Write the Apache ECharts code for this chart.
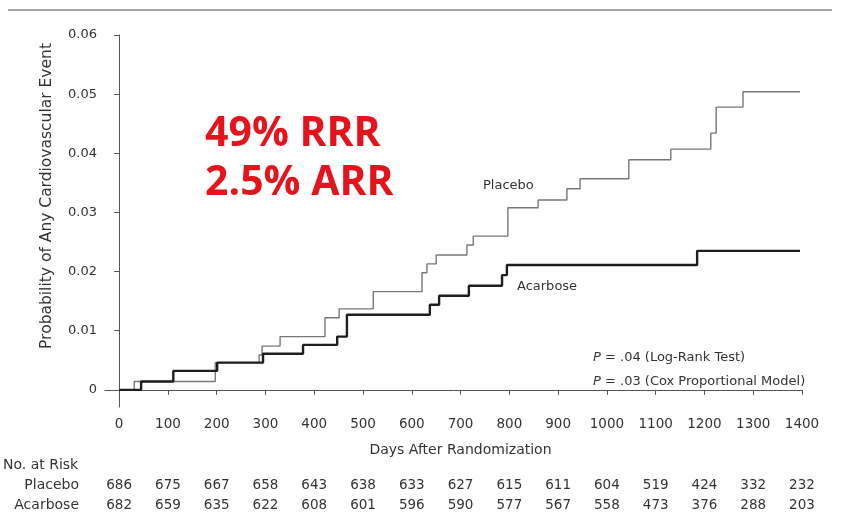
<!DOCTYPE html>
<html>
<head>
<meta charset="utf-8">
<script src="https://cdn.jsdelivr.net/npm/echarts@6/dist/echarts.min.js"></script>
<style>
html,body{margin:0;padding:0;background:#fff;}
#main{width:844px;height:526px;}
</style>
</head>
<body>
<div id="main"></div>
<script>
// ---- data ----
const placeboDays = [0, 31, 197, 287, 293, 330, 422, 451, 521, 621, 631, 650, 713, 726, 797, 859, 918, 945, 1045, 1131, 1213, 1224, 1279, 1396];
const placeboProb = [0, 0.0014, 0.0046, 0.0059, 0.0074, 0.0090, 0.0122, 0.0137, 0.0166, 0.0198, 0.0213, 0.0228, 0.0245, 0.0260, 0.0308, 0.0321, 0.0340, 0.0357, 0.0389, 0.0407, 0.0434, 0.0478, 0.0504, 0.0504];
const acarboseDays = [0, 45, 111, 201, 295, 377, 447, 467, 637, 656, 717, 785, 795, 1185, 1396];
const acarboseProb = [0, 0.0014, 0.0032, 0.0046, 0.0061, 0.0076, 0.0090, 0.0127, 0.0144, 0.0159, 0.0176, 0.0194, 0.0211, 0.0235, 0.0235];
const xTicks = [0, 100, 200, 300, 400, 500, 600, 700, 800, 900, 1000, 1100, 1200, 1300, 1400];
const xTickLabels = ['0', '100', '200', '300', '400', '500', '600', '700', '800', '900', '1000', '1100', '1200', '1300', '1400'];
const yTicks = [0, 0.01, 0.02, 0.03, 0.04, 0.05, 0.06];
const yTickLabels = ['0', '0.01', '0.02', '0.03', '0.04', '0.05', '0.06'];
const riskPlacebo = [686, 675, 667, 658, 643, 638, 633, 627, 615, 611, 604, 519, 424, 332, 232];
const riskAcarbose = [682, 659, 635, 622, 608, 601, 596, 590, 577, 567, 558, 473, 376, 288, 203];

const FONT = 'DejaVu Sans';
const TXT = '#333';

const chart = echarts.init(document.getElementById('main'), null, {renderer: 'canvas'});

function labelFor(ticks, labels) {
  return v => { const i = ticks.findIndex(t => Math.abs(t - v) < 1e-9); return i >= 0 ? String(labels[i]) : ''; };
}

function riskAxis(values, offset) {
  return {
    type: 'value', gridIndex: 0, position: 'bottom', offset: offset,
    min: -29, max: 1400,
    axisLine: {show: false}, axisTick: {show: false}, splitLine: {show: false},
    axisLabel: {
      customValues: xTicks, margin: 8, color: TXT, fontFamily: FONT, fontSize: 13.5,
      formatter: labelFor(xTicks, values)
    }
  };
}

const option = {
  animation: false,
  backgroundColor: '#fff',
  grid: {left: 105, right: 42, top: 35, bottom: 119, containLabel: false},
  xAxis: [
    {
      type: 'value', min: -29, max: 1400,
      name: 'Days After Randomization', nameLocation: 'middle', nameGap: 36,
      nameTextStyle: {color: TXT, fontFamily: FONT, fontSize: 14, padding: [0, 0, 0, 14]},
      axisLine: {lineStyle: {color: '#555', width: 1}},
      axisTick: {customValues: xTicks, length: 5, lineStyle: {color: '#555'}},
      axisLabel: {customValues: xTicks, margin: 10, color: TXT, fontFamily: FONT, fontSize: 13.5,
        formatter: labelFor(xTicks, xTickLabels)},
      splitLine: {show: false}
    },
    riskAxis(riskPlacebo, 63),
    riskAxis(riskAcarbose, 83)
  ],
  yAxis: {
    type: 'value', min: -0.0029, max: 0.06,
    axisLine: {show: true, lineStyle: {color: '#555', width: 1}},
    axisTick: {show: true, customValues: yTicks, length: 5, lineStyle: {color: '#555'}},
    axisLabel: {
      customValues: yTicks, margin: 8, color: TXT, fontFamily: FONT, fontSize: 13,
      formatter: labelFor(yTicks, yTickLabels)
    },
    splitLine: {show: false}
  },
  series: [
    {
      name: 'Placebo', type: 'line', step: 'end', symbol: 'none',
      data: placeboDays.map((d, i) => [d, placeboProb[i]]),
      lineStyle: {color: '#777', width: 1.4}
    },
    {
      name: 'Acarbose', type: 'line', step: 'end', symbol: 'none',
      data: acarboseDays.map((d, i) => [d, acarboseProb[i]]),
      lineStyle: {color: '#1e1e1e', width: 2.4}
    }
  ],
  graphic: [
    {type: 'line', shape: {x1: 8, y1: 10, x2: 832, y2: 10}, style: {stroke: '#888', lineWidth: 1.5}},
    {type: 'text', x: 47, y: 196, rotation: Math.PI / 2,
      style: {text: 'Probability of Any Cardiovascular Event', fill: TXT, font: '15.5px "DejaVu Sans"', align: 'center', verticalAlign: 'middle'}},
    {type: 'text', x: 205, y: 134,
      style: {text: '49% RRR', fill: '#e5141c', font: 'bold 41px "Open Sans"', align: 'left', verticalAlign: 'middle'}},
    {type: 'text', x: 205, y: 183,
      style: {text: '2.5% ARR', fill: '#e5141c', font: 'bold 41px "Open Sans"', align: 'left', verticalAlign: 'middle'}},
    {type: 'text', x: 483, y: 186,
      style: {text: 'Placebo', fill: TXT, font: '13px "DejaVu Sans"', align: 'left', verticalAlign: 'middle'}},
    {type: 'text', x: 517, y: 287,
      style: {text: 'Acarbose', fill: TXT, font: '13px "DejaVu Sans"', align: 'left', verticalAlign: 'middle'}},
    {type: 'text', x: 593, y: 358,
      style: {text: '{i|P} = .04 (Log-Rank Test)', fill: TXT, font: '13px "DejaVu Sans"', align: 'left', verticalAlign: 'middle',
        rich: {i: {fontStyle: 'italic', fontFamily: FONT, fontSize: 13, fill: TXT}}}},
    {type: 'text', x: 593, y: 382,
      style: {text: '{i|P} = .03 (Cox Proportional Model)', fill: TXT, font: '13px "DejaVu Sans"', align: 'left', verticalAlign: 'middle',
        rich: {i: {fontStyle: 'italic', fontFamily: FONT, fontSize: 13, fill: TXT}}}},
    {type: 'text', x: 3, y: 465,
      style: {text: 'No. at Risk', fill: TXT, font: '14px "DejaVu Sans"', align: 'left', verticalAlign: 'middle'}},
    {type: 'text', x: 79, y: 485,
      style: {text: 'Placebo', fill: TXT, font: '14px "DejaVu Sans"', align: 'right', verticalAlign: 'middle'}},
    {type: 'text', x: 79, y: 505,
      style: {text: 'Acarbose', fill: TXT, font: '14px "DejaVu Sans"', align: 'right', verticalAlign: 'middle'}}
  ]
};
chart.setOption(option);
</script>
</body>
</html>
